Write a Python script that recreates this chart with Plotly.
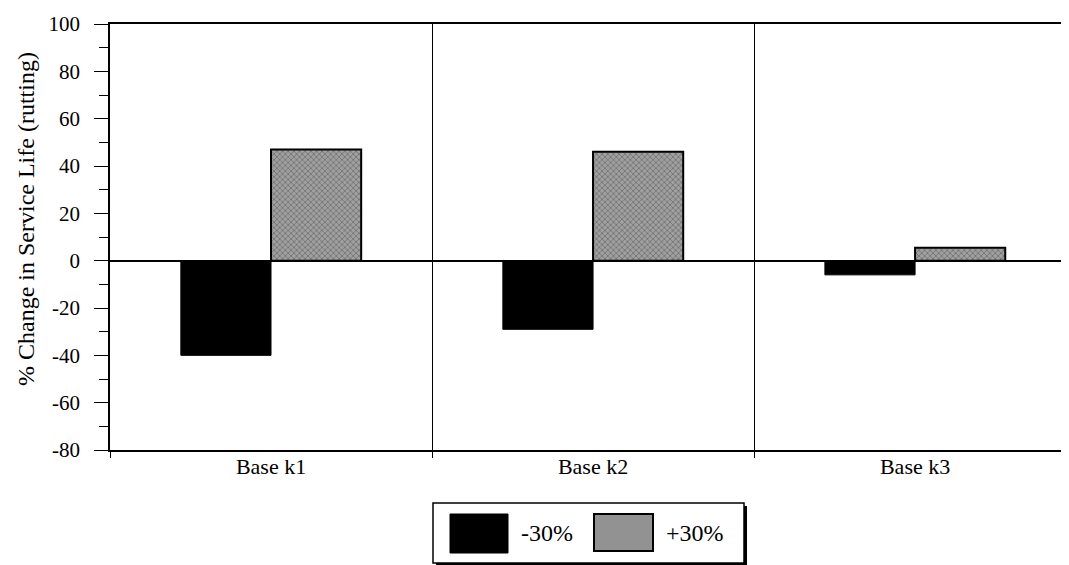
import plotly.graph_objects as go

categories = ["Base k1", "Base k2", "Base k3"]
minus30 = [-40, -29, -6]
plus30 = [47, 46, 5.5]
series_names = ["-30%", "+30%"]
y_tickvals = [-80, -60, -40, -20, 0, 20, 40, 60, 80, 100]
y_ticktext = ["-80", "-60", "-40", "-20", "0", "20", "40", "60", "80", "100"]
y_title = "% Change in Service Life (rutting)"

FONT = "Liberation Serif, Times New Roman, serif"

fig = go.Figure()
fig.add_trace(go.Bar(
    x=categories, y=minus30, name=series_names[0],
    marker=dict(color="black", line=dict(color="black", width=1)),
    showlegend=False,
))
fig.add_trace(go.Bar(
    x=categories, y=plus30, name=series_names[1],
    marker=dict(color="#929292", line=dict(color="black", width=2),
                pattern=dict(shape="x", fgcolor="#3a3a3a", bgcolor="#a0a0a0",
                             size=4, solidity=0.35)),
    showlegend=False,
))

# The page body has an 8px margin, so figure coords = screen coords - 8
W, H = 1061, 557
L, R, T, B = 102, 0, 16, 115

fig.update_layout(
    width=W, height=H,
    margin=dict(l=L, r=R, t=T, b=B),
    paper_bgcolor="white", plot_bgcolor="white",
    barmode="group", bargap=0.44, bargroupgap=0,
    font=dict(family=FONT, size=20, color="black"),
    showlegend=False,
)
fig.update_xaxes(
    range=[-0.5, 2.478],
    showline=True, linecolor="black", linewidth=1.5, mirror=True,
    tickson="boundaries", ticks="outside", ticklen=6, tickcolor="black",
    ticklabelstandoff=-4,
    showgrid=True, gridcolor="black", gridwidth=1,
    tickfont=dict(family=FONT, size=22),
)
fig.update_yaxes(
    range=[-80, 100], tickvals=y_tickvals, ticktext=y_ticktext,
    showline=True, linecolor="black", linewidth=1.5,
    ticks="outside", ticklen=14, tickcolor="black",
    ticklabelstandoff=10,
    minor=dict(dtick=10, ticks="outside", ticklen=9, tickcolor="black"),
    showgrid=False,
    zeroline=True, zerolinecolor="black", zerolinewidth=1.5,
    tickfont=dict(family=FONT, size=21),
)

pw, ph = W - L - R, H - T - B

def px(xs):
    return (xs - 8 - L) / pw

def py(ys):
    return (H - B - (ys - 8)) / ph

# y-axis title placed as rotated annotation
fig.add_annotation(xref="paper", yref="paper", x=px(26), y=py(219),
                   text=y_title, textangle=-90, showarrow=False,
                   xanchor="center", yanchor="middle",
                   font=dict(family=FONT, size=24, color="black"))

# legend box with drop shadow (screen coordinates)
fig.add_shape(type="rect", xref="paper", yref="paper",
              x0=px(436), x1=px(747), y0=py(566), y1=py(506),
              fillcolor="black", line=dict(width=0))
fig.add_shape(type="rect", xref="paper", yref="paper",
              x0=px(433), x1=px(744), y0=py(563), y1=py(503),
              fillcolor="white", line=dict(color="black", width=1.5))
fig.add_shape(type="rect", xref="paper", yref="paper",
              x0=px(450), x1=px(508), y0=py(553), y1=py(514),
              fillcolor="black", line=dict(color="black", width=1))
fig.add_shape(type="rect", xref="paper", yref="paper",
              x0=px(594), x1=px(653), y0=py(551), y1=py(514),
              fillcolor="#929292", line=dict(color="black", width=2))
fig.add_annotation(xref="paper", yref="paper", x=px(519), y=py(533),
                   text=series_names[0], showarrow=False, xanchor="left", yanchor="middle",
                   font=dict(family=FONT, size=24, color="black"))
fig.add_annotation(xref="paper", yref="paper", x=px(664), y=py(533),
                   text=series_names[1], showarrow=False, xanchor="left", yanchor="middle",
                   font=dict(family=FONT, size=24, color="black"))

fig.write_html("out.html")
